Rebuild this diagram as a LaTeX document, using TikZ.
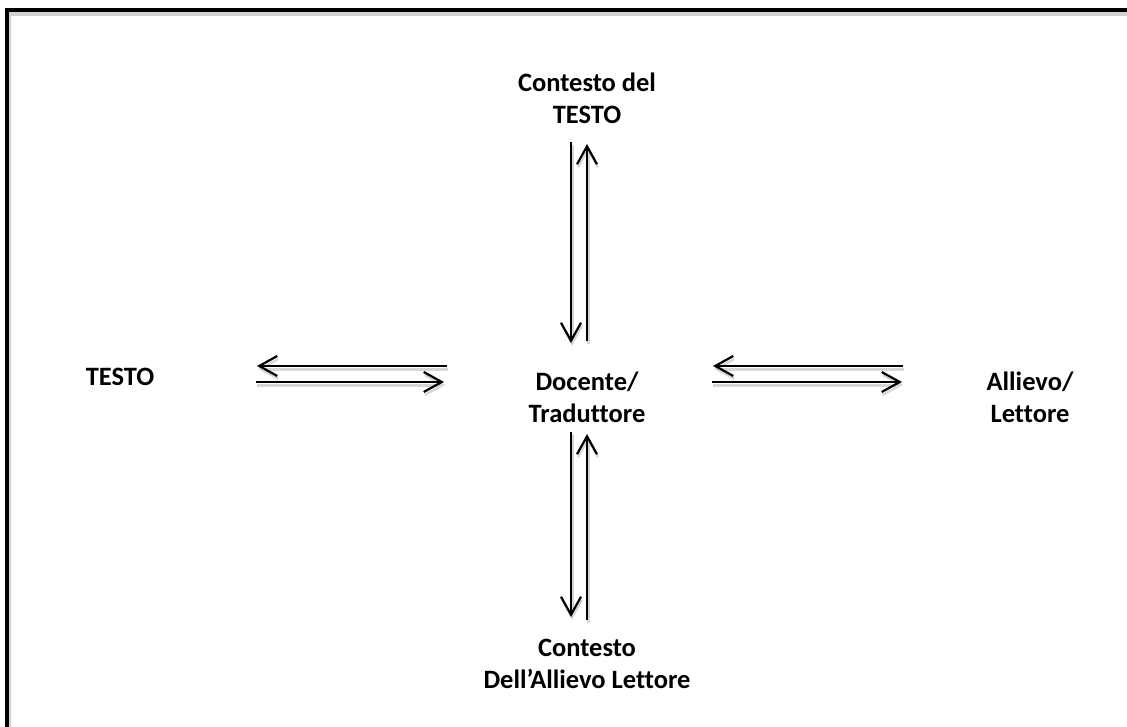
\documentclass[tikz,border=0pt]{standalone}
\usepackage{fontspec}
\setmainfont{Carlito}[Ligatures=NoCommon]
\usetikzlibrary{arrows.meta}

\begin{document}
\begin{tikzpicture}[x=1pt, y=-1pt,
    lbl/.style={font=\bfseries\fontsize{26.5}{32}\selectfont, align=center, inner sep=0pt},
    arr/.style={line width=2.4pt, -{Straight Barb[length=18pt, width=20pt, line width=2.2pt]},
        preaction={draw=black!16, line width=3pt, transform canvas={shift={(1pt,-3pt)}}}}
]
\useasboundingbox (0,0) rectangle (1127,727);
\clip (0,0) rectangle (1127,727);

% frame
\draw[black!18, line width=4pt] (9,14) rectangle (1200,800);
\draw[line width=4pt] (7,10) rectangle (1200,800);

% labels
\node[lbl] (testo) at (120,377) {TESTO};
\node[lbl] (docente) at (587,397) {Docente/\\Traduttore};
\node[lbl] (allievo) at (1030,397) {Allievo/\\Lettore};
\node[lbl] (ctesto) at (587,98) {Contesto del\\TESTO};
\node[lbl] (callievo) at (587,664) {Contesto\\Dell’Allievo Lettore};

% arrow ends
\coordinate (tl1) at (571,142);  \coordinate (tl2) at (571,343);
\coordinate (tr1) at (587,341);  \coordinate (tr2) at (587,144);
\coordinate (bl1) at (571,432);  \coordinate (bl2) at (571,617);
\coordinate (br1) at (587,620);  \coordinate (br2) at (587,434);
\coordinate (lu1) at (447,366);  \coordinate (lu2) at (257,366);
\coordinate (ld1) at (256,382);  \coordinate (ld2) at (444,382);
\coordinate (ru1) at (903,366);  \coordinate (ru2) at (713,366);
\coordinate (rd1) at (712,382);  \coordinate (rd2) at (902,382);

\draw[arr] (tl1) -- (tl2);
\draw[arr] (tr1) -- (tr2);
\draw[arr] (bl1) -- (bl2);
\draw[arr] (br1) -- (br2);
\draw[arr] (lu1) -- (lu2);
\draw[arr] (ld1) -- (ld2);
\draw[arr] (ru1) -- (ru2);
\draw[arr] (rd1) -- (rd2);
\end{tikzpicture}
\end{document}
